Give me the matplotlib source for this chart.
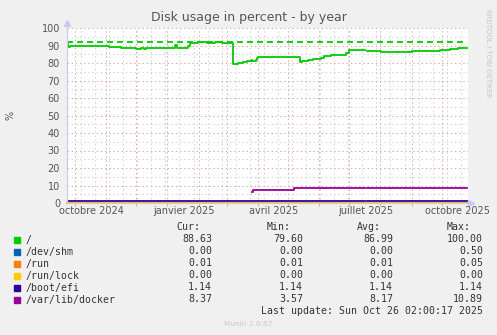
import matplotlib
matplotlib.use("Agg")
import matplotlib.pyplot as plt
import matplotlib.dates as mdates
import numpy as np
import pandas as pd

# series (steps: value holds from that date to the next)
root_dates = ["2024-09-23", "2024-09-24", "2024-09-26", "2024-11-04", "2024-11-09", "2024-11-16",
              "2024-12-01", "2024-12-06", "2024-12-09", "2024-12-11", "2025-01-09", "2025-01-11",
              "2025-01-21", "2025-01-23", "2025-01-31", "2025-02-09", "2025-02-17", "2025-02-24",
              "2025-03-07", "2025-03-09", "2025-03-12", "2025-03-17", "2025-03-21", "2025-03-25",
              "2025-03-26", "2025-03-30", "2025-03-31", "2025-04-01", "2025-05-03", "2025-05-13",
              "2025-05-15", "2025-05-21", "2025-05-26", "2025-06-03", "2025-06-06", "2025-06-13",
              "2025-06-28", "2025-07-01", "2025-07-17", "2025-07-19", "2025-07-30", "2025-08-02",
              "2025-09-01", "2025-09-29", "2025-10-09", "2025-10-17", "2025-10-26"]
root_vals = [91.0, 89.2, 89.7, 89.3, 89.0, 88.4,
             88.0, 88.4, 88.0, 88.4, 90.3, 88.4,
             90.0, 91.7, 92.1, 91.7, 92.1, 91.7,
             79.4, 79.6, 80.2, 80.7, 81.3, 81.8,
             81.3, 81.8, 83.0, 83.2, 83.6, 80.6,
             81.1, 81.7, 82.3, 82.9, 83.8, 84.4,
             85.8, 87.2, np.nan, 86.9, 86.6, 86.3,
             86.9, 87.4, 88.0, 88.5, 88.6]

flat_dates = ["2024-09-23", "2025-07-17", "2025-07-19", "2025-10-26"]
shm_vals = [0.0, 0.0, 0.0, 0.0]
run_vals = [0.01, 0.01, 0.01, 0.01]
lock_vals = [0.0, 0.0, 0.0, 0.0]
efi_vals = [1.14, np.nan, 1.14, 1.14]

docker_dates = ["2025-03-26", "2025-03-27", "2025-05-07", "2025-07-17", "2025-07-19", "2025-10-26"]
docker_vals = [6.4, 7.3, 8.4, np.nan, 8.4, 8.4]

warning = 92

names = ["/", "/dev/shm", "/run", "/run/lock", "/boot/efi", "/var/lib/docker"]
colors = ["#00CC00", "#0066B3", "#FF8000", "#FFCC00", "#330099", "#990099"]
cur = ["88.63", "0.00", "0.01", "0.00", "1.14", "8.37"]
mins = ["79.60", "0.00", "0.01", "0.00", "1.14", "3.57"]
avgs = ["86.99", "0.00", "0.01", "0.00", "1.14", "8.17"]
maxs = ["100.00", "0.50", "0.05", "0.00", "1.14", "10.89"]

x_labels = ["octobre 2024", "janvier 2025", "avril 2025", "juillet 2025", "octobre 2025"]
x_label_dates = ["2024-10-17", "2025-01-17", "2025-04-17", "2025-07-17", "2025-10-17"]

plt.rcParams['lines.scale_dashes'] = False
W, H = 497, 335
fig = plt.figure(figsize=(W / 100, H / 100), dpi=100, facecolor="#F0F0F0")
ax = fig.add_axes([66.7 / W, 1 - 203 / H, 401 / W, 175 / H])
ax.set_facecolor("white")

ax.set_xlim(pd.Timestamp("2024-09-22 17:00"), pd.Timestamp("2025-10-26 22:00"))
ax.set_ylim(0, 100)

# grid: red on months / tens, gray on fortnights / fives
red = "#E8A0A0"
gray = "#D0D0D0"
ax.set_yticks(np.arange(0, 101, 10))
ax.set_yticks(np.arange(5, 100, 10), minor=True)
ax.xaxis.set_major_locator(mdates.MonthLocator())
ax.xaxis.set_minor_locator(mdates.WeekdayLocator(byweekday=mdates.MO, interval=2))
ax.grid(which="minor", color=gray, linestyle=(0, (1, 2)), linewidth=0.7)
ax.grid(which="major", color=red, linestyle=(0, (1, 2)), linewidth=0.7)
ax.set_axisbelow(True)
ax.xaxis.set_major_formatter(plt.NullFormatter())
ax.tick_params(axis="x", which="major", length=2.5, color=red, width=0.7)
ax.tick_params(axis="x", which="minor", length=0)
ax.tick_params(axis="y", which="both", length=0, pad=4.8, labelsize=7, labelcolor="#555555")

for lab, d in zip(x_labels, x_label_dates):
    ax.text(pd.Timestamp(d), -2, lab, ha="center", va="top", fontsize=7, color="#555555",
            clip_on=False)

for s in ["top", "right"]:
    ax.spines[s].set_visible(False)
ax.spines["left"].set_color("#C8C8F0")
ax.spines["bottom"].set_color("#C8C8F0")
ax.plot([0], [1.03], marker="^", color="#C8C8F0", markersize=4, transform=ax.transAxes, clip_on=False)
ax.plot([1.008], [0], marker=">", color="#C8C8F0", markersize=4, transform=ax.transAxes, clip_on=False)

# data
lw = 1.3
fd = pd.to_datetime(flat_dates)
ax.plot(pd.to_datetime(root_dates), root_vals, drawstyle="steps-post", color=colors[0], lw=lw)
ax.plot(fd, shm_vals, drawstyle="steps-post", color=colors[1], lw=lw, clip_on=False)
ax.plot(fd, run_vals, drawstyle="steps-post", color=colors[2], lw=lw, clip_on=False)
ax.plot(fd, lock_vals, drawstyle="steps-post", color=colors[3], lw=lw, clip_on=False)
ax.plot(fd, efi_vals, drawstyle="steps-post", color=colors[4], lw=lw)
ax.plot(pd.to_datetime(docker_dates), docker_vals, drawstyle="steps-post", color=colors[5], lw=lw)
ax.plot([fd[0], fd[-1]], [warning, warning], color=colors[0], lw=lw, dashes=(4.3, 2.9))

# texts
fig.text(248.5 / W, 1 - 18 / H, "Disk usage in percent - by year", ha="center", va="center",
         fontsize=9, color="#555555")
fig.text(11 / W, 1 - 115 / H, "%", rotation=90, ha="center", va="center", fontsize=7, color="#555555")
fig.text(488 / W, 1 - 53 / H, "RRDTOOL / TOBI OETIKER", rotation=270, ha="center", va="center",
         fontsize=5, color="#C4C4C4")
fig.text(248 / W, 1 - 324 / H, "Munin 2.0.67", ha="center", va="center", fontsize=5.3, color="#C8C8C8")

# legend table
mono = dict(family="DejaVu Sans Mono", fontsize=7.15, color="#333333", va="center")
cols = [212, 303, 393, 483]
for hdr, cx in zip(["Cur:", "Min:", "Avg:", "Max:"], cols):
    fig.text((cx - 12) / W, 1 - 227.3 / H, hdr, ha="right", **mono)
for i, name in enumerate(names):
    y = 1 - (239.5 + 12 * i) / H
    fig.patches.append(plt.Rectangle((14 / W, y - 3 / H), 6 / W, 6 / H, color=colors[i],
                                     transform=fig.transFigure, figure=fig))
    fig.text(26 / W, y, name, ha="left", **mono)
    for v, cx in zip([cur[i], mins[i], avgs[i], maxs[i]], cols):
        fig.text(cx / W, y, v, ha="right", **mono)
fig.text(483 / W, 1 - 311.3 / H, "Last update: Sun Oct 26 02:00:17 2025", ha="right", **mono)

plt.savefig("out.png", dpi=100, facecolor=fig.get_facecolor())
